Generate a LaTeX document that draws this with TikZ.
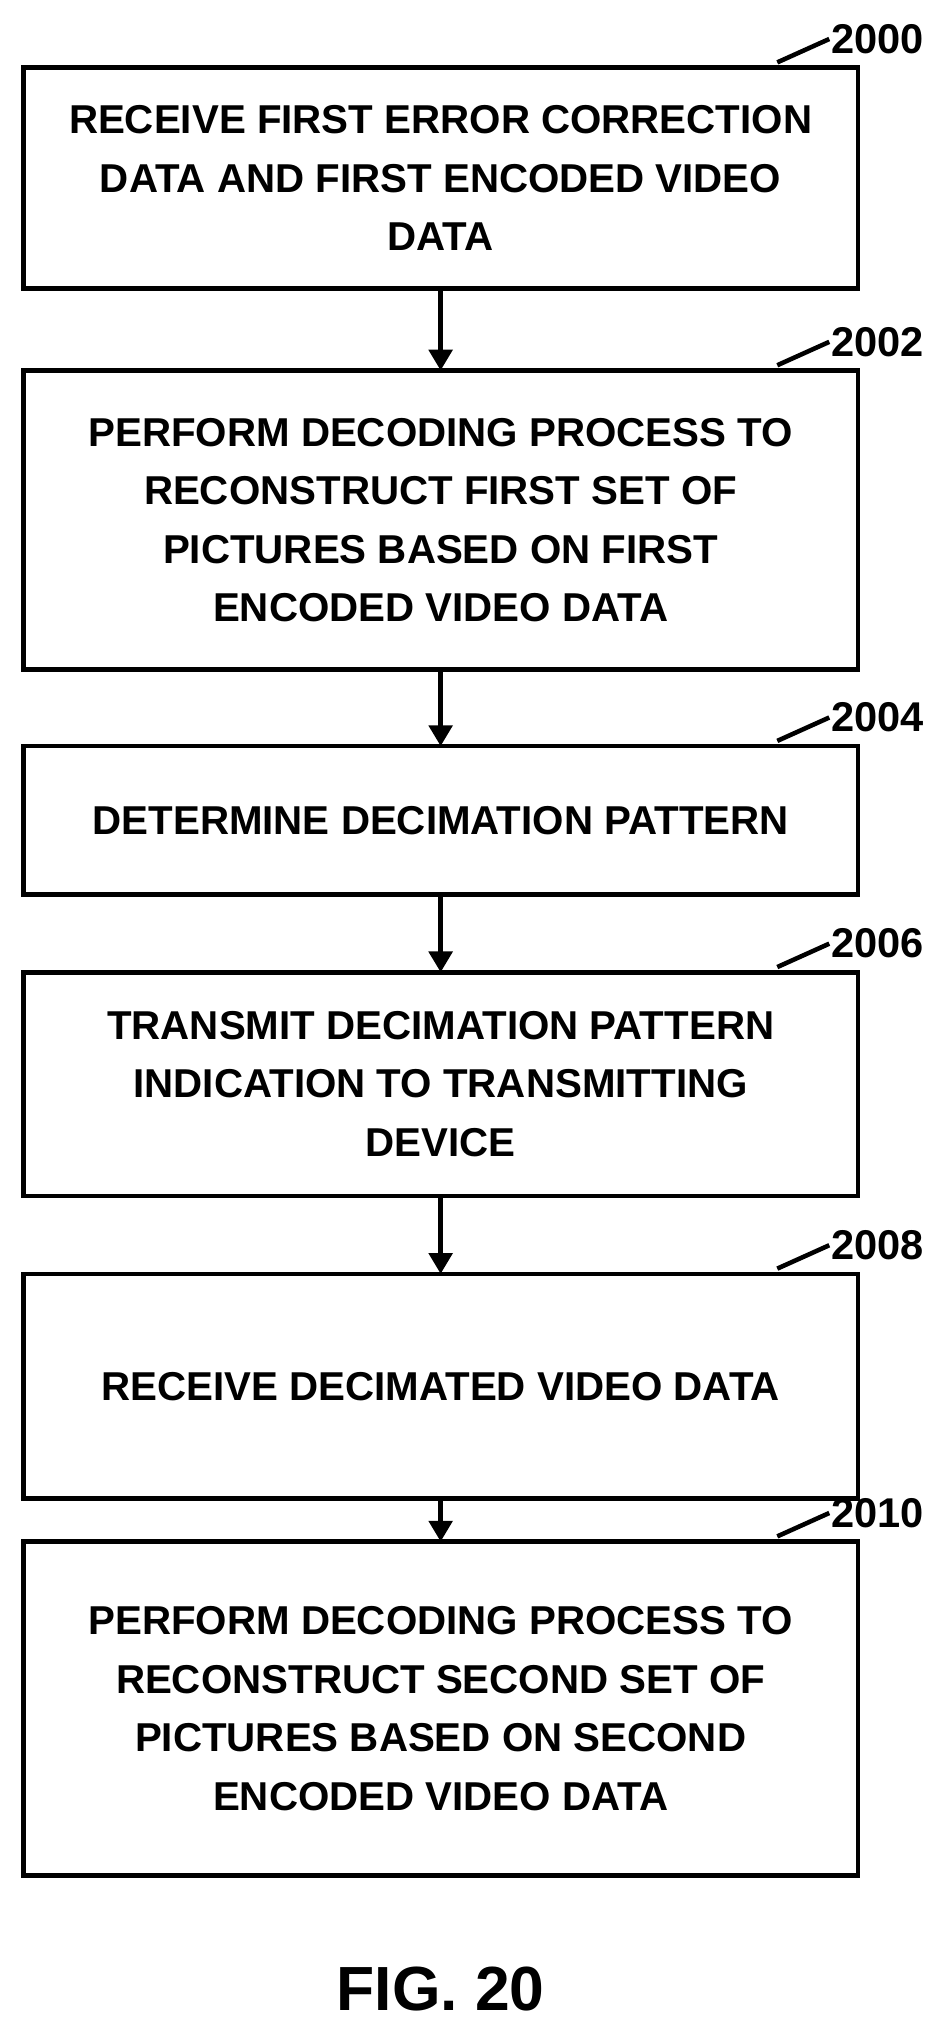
\documentclass[tikz,border=0pt]{standalone}
\usepackage{fontspec}
\setmainfont{Liberation Sans}
\usetikzlibrary{arrows.meta}
\begin{document}
\begin{tikzpicture}[x=1pt,y=-1pt,
  stepbox/.style={draw,line width=3.5pt,align=center,font=\fontsize{31}{45}\selectfont\bfseries},
  arr/.style={line width=3.5pt,-{Triangle[length=16pt,width=18pt]}},
  lbl/.style={font=\fontsize{32}{34}\selectfont\bfseries,anchor=west,inner sep=0pt},
  lead/.style={line width=3.5pt}]
\useasboundingbox (0,0) rectangle (725,1561);
\newcommand{\stepb}[5]{%
  \draw[line width=3.5pt] (18,#1) rectangle (660,#2);
  \node[stepbox,draw=none] (#3) at (339,{(#1+#2)/2}) {#4};
  \coordinate (#3t) at (339,#1); \coordinate (#3b) at (339,#2);
  \coordinate (#3l) at (598,{#1-4});
  \draw[lead] (#3l) -- ++(40,-18) node[lbl,anchor=west] {#5};}
\stepb{52}{222}{a}{RECEIVE FIRST ERROR CORRECTION\\DATA AND FIRST ENCODED VIDEO\\DATA}{2000}
\stepb{285}{515}{b}{PERFORM DECODING PROCESS TO\\RECONSTRUCT FIRST SET OF\\PICTURES BASED ON FIRST\\ENCODED VIDEO DATA}{2002}
\stepb{574}{688}{c}{DETERMINE DECIMATION PATTERN}{2004}
\stepb{748}{920}{d}{TRANSMIT DECIMATION PATTERN\\INDICATION TO TRANSMITTING\\DEVICE}{2006}
\stepb{980}{1153}{e}{RECEIVE DECIMATED VIDEO DATA}{2008}
\stepb{1186}{1443}{f}{PERFORM DECODING PROCESS TO\\RECONSTRUCT SECOND SET OF\\PICTURES BASED ON SECOND\\ENCODED VIDEO DATA}{2010}
\draw[arr] (ab) -- (bt);
\draw[arr] (bb) -- (ct);
\draw[arr] (cb) -- (dt);
\draw[arr] (db) -- (et);
\draw[arr] (eb) -- (ft);
\node[font=\fontsize{48}{50}\selectfont\bfseries] (fig) at (339,1530) {FIG. 20};
\end{tikzpicture}
\end{document}
